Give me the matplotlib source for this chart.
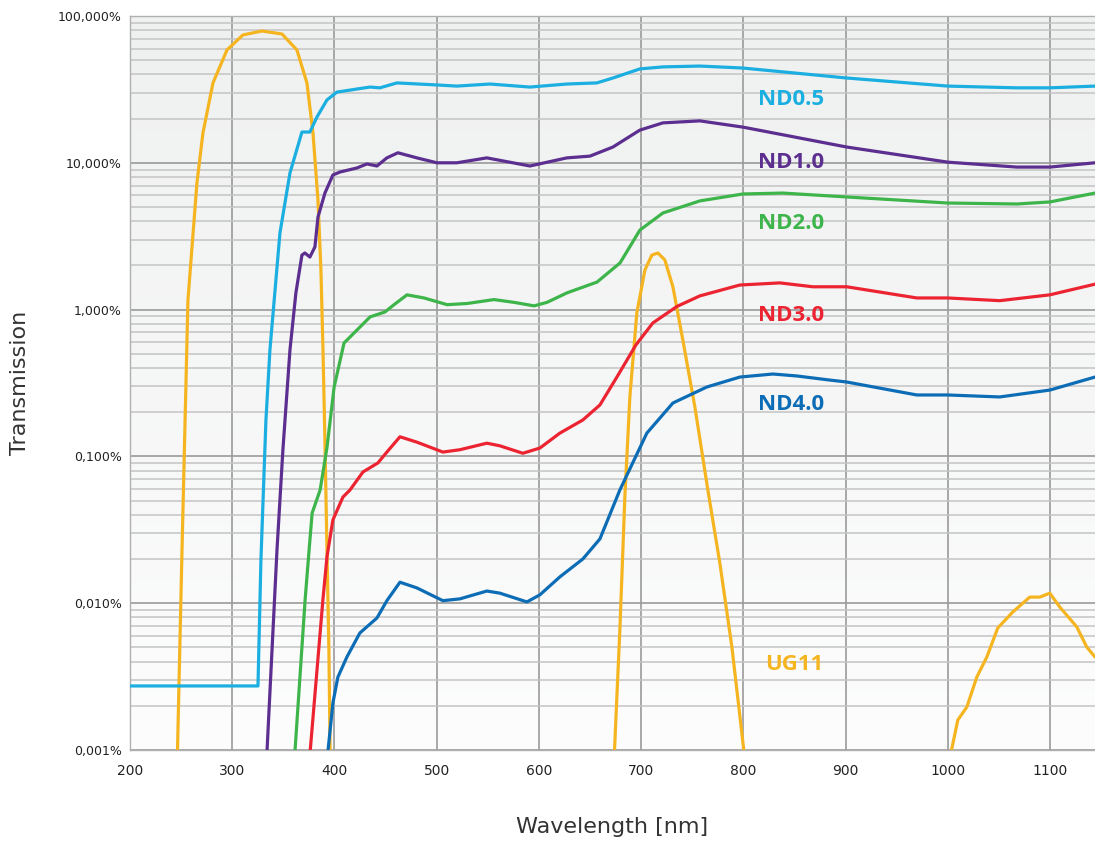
import numpy as np
import matplotlib
matplotlib.use("Agg")
import matplotlib.pyplot as plt
from matplotlib.ticker import FixedLocator, FuncFormatter, LogLocator

# wavelength [nm] / transmission [%]
nd05_wl = [200, 325.2, 328.1, 333.0, 336.9, 346.7, 356.5, 368.2, 376.0, 382.9, 392.7, 402.4,
           422.0, 434.7, 444.5, 461.1, 500.2, 519.8, 552.1, 591.2, 627.4, 656.7, 672.4, 698.8,
           721.3, 757.5, 799.5, 901.2, 1000.0, 1067.5, 1099.8, 1144]
nd05_t = [0.00273, 0.00273, 0.0197, 0.177, 0.531, 3.33, 8.53, 16.2, 16.2, 20.5, 26.8, 30.3,
          31.8, 32.8, 32.4, 35.0, 33.9, 33.3, 34.4, 32.8, 34.4, 35.0, 37.8, 43.6,
          45.0, 45.6, 44.2, 37.8, 33.3, 32.4, 32.4, 33.3]

nd10_wl = [333.0, 343.8, 349.6, 356.5, 362.3, 368.2, 371.1, 376.0, 380.9, 383.9, 390.7, 398.5,
           405.4, 422.0, 431.8, 441.6, 451.3, 462.1, 480.7, 500.2, 519.8, 549.1, 591.2, 627.4,
           649.9, 672.4, 698.8, 721.3, 757.5, 799.5, 901.2, 1000.0, 1067.5, 1099.8, 1144]
nd10_t = [0.0007, 0.0230, 0.111, 0.531, 1.30, 2.35, 2.43, 2.28, 2.67, 4.27, 6.22, 8.26,
          8.65, 9.22, 9.82, 9.51, 10.8, 11.7, 10.8, 10.0, 10.0, 10.8, 9.51, 10.8,
          11.1, 12.8, 16.7, 18.7, 19.3, 17.5, 12.8, 10.1, 9.35, 9.35, 10.0]

nd20_wl = [360.0, 371.3, 375.2, 378.2, 386.0, 392.8, 399.7, 409.4, 422.1, 434.8, 449.5, 458.3,
           471.0, 487.7, 510.2, 529.7, 556.1, 575.7, 595.3, 607.9, 627.5, 656.9, 679.4, 698.8,
           721.3, 757.5, 799.5, 838.6, 901.2, 1000.0, 1067.5, 1099.8, 1144]
nd20_t = [0.0007, 0.0105, 0.0230, 0.0411, 0.0590, 0.116, 0.297, 0.592, 0.726, 0.891, 0.964, 1.08,
          1.26, 1.20, 1.08, 1.10, 1.17, 1.12, 1.06, 1.12, 1.30, 1.54, 2.08, 3.48,
          4.55, 5.50, 6.13, 6.22, 5.85, 5.32, 5.24, 5.41, 6.22]

nd30_wl = [374.5, 388.7, 392.7, 398.5, 408.3, 415.2, 427.9, 442.5, 451.3, 464.1, 480.7, 506.1,
           522.7, 549.1, 561.9, 584.3, 601.0, 620.5, 643.0, 659.7, 676.3, 694.9, 711.5, 735.0,
           757.5, 796.6, 835.7, 868.0, 901.2, 969.7, 1000.0, 1050.8, 1099.8, 1144]
nd30_t = [0.0007, 0.0105, 0.0207, 0.0369, 0.0528, 0.0590, 0.0783, 0.0902, 0.107, 0.136, 0.125, 0.107,
          0.111, 0.123, 0.118, 0.105, 0.114, 0.144, 0.177, 0.224, 0.347, 0.574, 0.811, 1.05,
          1.24, 1.47, 1.52, 1.43, 1.43, 1.20, 1.20, 1.15, 1.26, 1.49]

nd40_wl = [391.5, 398.5, 403.4, 412.2, 424.9, 441.6, 451.3, 464.1, 480.7, 506.1, 522.7, 549.1,
           561.9, 588.3, 601.0, 620.5, 643.0, 659.7, 679.2, 705.6, 731.1, 764.3, 796.6, 828.9,
           852.3, 884.6, 901.2, 969.7, 1000.0, 1050.8, 1099.8, 1144]
nd40_t = [0.0007, 0.00209, 0.00314, 0.00430, 0.00627, 0.00793, 0.0104, 0.0139, 0.0127, 0.0104, 0.0107, 0.0121,
          0.0117, 0.0102, 0.0114, 0.0151, 0.0200, 0.0274, 0.0590, 0.144, 0.231, 0.297, 0.347, 0.364,
          0.353, 0.331, 0.321, 0.262, 0.262, 0.254, 0.283, 0.347]

# UG11, three pass bands separated by gaps
ug11_wl = [246.0, 250.9, 256.7, 265.5, 271.4, 281.2, 294.9, 310.5, 329.1, 348.7, 363.3, 373.1,
           379.0, 383.9, 386.8, 388.8, 390.7, 392.7, 394.6, 396.0, np.nan,
           673.0, 679.2, 684.1, 689.0, 695.8, 703.7, 710.5, 716.4, 723.2, 731.1, 740.8, 752.6,
           765.3, 777.0, 788.8, 803.0, np.nan,
           999.0, 1009.8, 1018.6, 1028.4, 1038.2, 1048.9, 1063.6, 1080.2, 1090.0, 1099.8, 1109.5,
           1126.2, 1135.9, 1144]
ug11_t = [0.0007, 0.0230, 1.16, 7.28, 16.0, 35.0, 58.7, 74.3, 79.0, 75.4, 58.7, 35.0,
          16.0, 5.58, 1.86, 0.531, 0.129, 0.0230, 0.0048, 0.0007, np.nan,
          0.0007, 0.00656, 0.0528, 0.254, 0.948, 1.86, 2.35, 2.43, 2.18, 1.43, 0.621, 0.217,
          0.0590, 0.0188, 0.00503, 0.0007, np.nan,
          0.0007, 0.00160, 0.00196, 0.00314, 0.00430, 0.00678, 0.00871, 0.0110, 0.0110, 0.0117, 0.00942,
          0.00689, 0.00503, 0.00430]

fig = plt.figure(figsize=(10.95, 8.46), dpi=100)
ax = fig.add_axes([0.1187, 0.1135, 0.8813, 0.8676])

# light grey to white background
grad = np.linspace(0, 1, 256).reshape(-1, 1)
ax.imshow(grad, cmap=matplotlib.colors.LinearSegmentedColormap.from_list("bg", ["#eff0f0", "#fdfdfd"]),
          extent=[0, 1, 0, 1], transform=ax.transAxes, aspect="auto", zorder=0)

ax.set_yscale("log")
ax.set_xlim(200, 1144)
ax.set_ylim(0.001, 100)

lw = 2.3
style = dict(lw=lw, solid_joinstyle="round", solid_capstyle="round")
ax.plot(ug11_wl, ug11_t, color="#f5b521", zorder=3, **style)
ax.plot(nd05_wl, nd05_t, color="#1aafe0", zorder=4, **style)
ax.plot(nd10_wl, nd10_t, color="#5b2e8f", zorder=4, **style)
ax.plot(nd20_wl, nd20_t, color="#3db54a", zorder=4, **style)
ax.plot(nd30_wl, nd30_t, color="#ec2431", zorder=4, **style)
ax.plot(nd40_wl, nd40_t, color="#0c6db6", zorder=4, **style)

lab = dict(fontsize=16, fontweight="bold", family="Open Sans", va="center", ha="left", zorder=5)
ax.text(814, 26.8, "ND0.5", color="#1aafe0", **lab)
ax.text(814, 10.0, "ND1.0", color="#5b2e8f", **lab)
ax.text(814, 3.83, "ND2.0", color="#3db54a", **lab)
ax.text(814, 0.918, "ND3.0", color="#ec2431", **lab)
ax.text(814, 0.224, "ND4.0", color="#0c6db6", **lab)
ax.text(821, 0.00385, "UG11", color="#f5b521", **lab)

ax.xaxis.set_major_locator(FixedLocator(range(200, 1101, 100)))
ax.yaxis.set_major_locator(LogLocator(base=10, numticks=10))
ax.yaxis.set_minor_locator(LogLocator(base=10, subs=np.arange(2, 10), numticks=20))
ax.yaxis.set_major_formatter(FuncFormatter(lambda v, p: f"{v:.3f}%".replace(".", ",")))
ax.yaxis.set_minor_formatter(FuncFormatter(lambda v, p: ""))

ax.grid(True, which="major", axis="both", color="#9a9a9a", lw=1.2, zorder=1)
ax.grid(True, which="minor", axis="y", color="#c4c4c4", lw=1.1, zorder=1)
ax.set_axisbelow(True)
ax.tick_params(which="both", length=0)
ax.tick_params(axis="y", labelsize=9, pad=6, colors="#222222")
ax.tick_params(axis="x", labelsize=10, pad=10, colors="#222222")
for s in ax.spines.values():
    s.set_color("#b0b0b0")
    s.set_linewidth(1)
ax.spines["right"].set_visible(False)

ax.set_xlabel("Wavelength [nm]", fontsize=16, color="#333333", labelpad=28)
ax.set_ylabel("Transmission", fontsize=16, color="#333333", labelpad=20)

fig.savefig("out.png", dpi=100)
